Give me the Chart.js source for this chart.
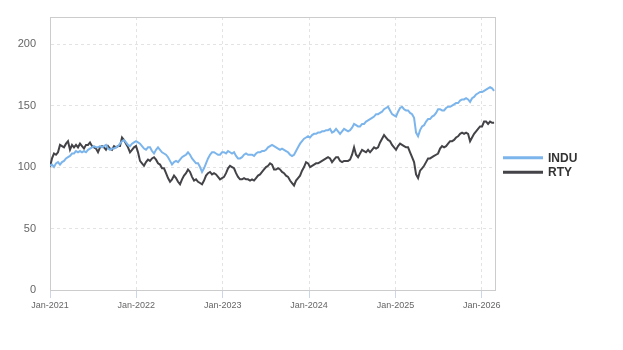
<!DOCTYPE html>
<html><head><meta charset="utf-8">
<script src="https://cdn.jsdelivr.net/npm/chart.js@4/dist/chart.umd.min.js"></script>
<style>html,body{margin:0;padding:0;background:#fff}canvas{display:block}</style>
</head><body>
<canvas id="c" width="623" height="350"></canvas>
<script>
// ---- data ----
const seriesNames = ['INDU', 'RTY'];
const seriesColors = ['#7cb5ec', '#434348'];
const startDate = '2021-01-01';
const endDate = '2026-02-26';
const stepDays = 8.46; // spacing between samples
const xTickLabels = ['Jan-2021', 'Jan-2022', 'Jan-2023', 'Jan-2024', 'Jan-2025', 'Jan-2026'];
const yTickValues = [0, 50, 100, 150, 200];

const indu = [
 101,102,100,103,104,102,104,105,107,108,
 109,111,111,113,112,113,112,113,112,114,
 115,116,117,116,116,117,116,117,118,115,
 114,115,115,116,117,119,121,122,120,118,
 117,119,120,121,120,119,117,115,114,116,
 116,113,111,114,116,114,112,111,110,108,
 105,102,104,105,104,106,108,109,110,112,
 110,107,105,103,103,100,96,99,103,107,
 110,112,112,111,110,110,112,112,111,113,
 112,111,112,109,107,107,108,110,111,110,
 110,110,109,111,112,112,113,113,114,116,
 117,118,117,116,115,114,115,114,113,112,
 110,109,110,113,116,119,121,123,124,125,
 124,126,127,127,128,128,129,129,130,130,
 131,128,129,131,129,127,129,131,130,129,
 130,132,135,134,133,133,135,135,137,138,
 139,140,141,143,143,144,145,147,148,149,
 146,143,142,141,145,148,149,147,146,146,
 144,143,140,128,125,130,133,134,137,139,
 139,141,142,144,147,147,146,146,148,149,
 149,150,151,152,152,154,155,155,156,155,
 153,156,157,159,160,161,161,162,163,164,
 165,164,162
];
const rty = [
 100,107,111,110,112,118,117,116,119,121,
 114,118,116,118,116,119,117,115,118,118,
 120,117,116,115,112,116,117,116,114,117,
 115,114,117,116,117,117,124,122,119,116,
 112,114,116,117,112,105,103,101,104,106,
 105,107,108,106,103,102,99,99,95,91,
 88,90,93,91,88,86,90,93,95,98,
 96,92,89,90,88,87,86,89,93,95,
 96,94,95,94,92,90,91,92,95,99,
 101,100,99,95,92,90,90,91,90,90,
 89,90,89,91,93,94,96,98,100,101,
 103,102,98,98,99,98,96,95,93,92,
 89,87,85,89,91,93,97,100,104,103,
 100,101,102,103,103,104,105,106,107,108,
 107,104,106,108,108,105,104,105,105,105,
 106,110,116,110,108,111,114,113,112,114,
 112,114,116,115,116,120,123,126,124,122,
 121,118,116,114,117,119,118,117,116,116,
 112,108,104,94,91,97,99,101,104,107,
 107,108,109,110,111,115,117,116,117,119,
 121,121,122,124,125,127,128,127,128,127,
 121,124,127,129,131,133,133,137,137,135,
 137,136,136
];

// ---- build ----
const DAY = 86400000, YEAR = 365.25;
const t0 = Date.parse(startDate);
const yearsFromStart = ms => (ms - t0) / DAY / YEAR;
const xMax = yearsFromStart(Date.parse(endDate));
const toPoints = arr => arr.map((v, i) => ({ x: i * stepDays / YEAR, y: v }));

const FONT = "'Liberation Sans', Arial, sans-serif";

const frame = {
  id: 'frame',
  beforeDatasetsDraw(chart) {
    const a = chart.chartArea, c = chart.ctx;
    c.save();
    c.strokeStyle = '#cccccc';
    c.lineWidth = 1;
    c.setLineDash([]);
    c.strokeRect(Math.round(a.left) + 0.5, Math.round(a.top) + 0.5, Math.round(a.right - a.left), Math.round(a.bottom - a.top));
    c.restore();
  }
};

const sideLegend = {
  id: 'sideLegend',
  afterDraw(chart) {
    const a = chart.chartArea, c = chart.ctx;
    const x0 = a.right + 8, midY = 165;
    c.save();
    c.font = 'bold 12px ' + FONT;
    c.textBaseline = 'middle';
    chart.data.datasets.forEach((ds, i) => {
      const y = midY + (i - 0.5) * 14.5;
      c.strokeStyle = ds.borderColor;
      c.lineWidth = 3;
      c.beginPath();
      c.moveTo(x0, y);
      c.lineTo(x0 + 40, y);
      c.stroke();
      c.fillStyle = '#333333';
      c.fillText(ds.label, x0 + 45, y + 0.5);
    });
    c.restore();
  }
};

new Chart(document.getElementById('c'), {
  type: 'line',
  data: {
    datasets: [
      { label: seriesNames[0], data: toPoints(indu), borderColor: seriesColors[0], backgroundColor: seriesColors[0], borderWidth: 2, pointRadius: 0, tension: 0, fill: false },
      { label: seriesNames[1], data: toPoints(rty), borderColor: seriesColors[1], backgroundColor: seriesColors[1], borderWidth: 2, pointRadius: 0, tension: 0, fill: false }
    ]
  },
  options: {
    responsive: false,
    animation: false,
    layout: { padding: { top: 17, right: 128, left: 0, bottom: 0 } },
    plugins: { legend: { display: false }, tooltip: { enabled: false } },
    scales: {
      x: {
        type: 'linear',
        min: 0,
        max: xMax,
        afterBuildTicks: s => { s.ticks = xTickLabels.map((_, i) => ({ value: i })); },
        afterFit: s => { s.height = 60; },
        ticks: {
          autoSkip: false,
          maxRotation: 0,
          padding: 2,
          color: '#666666',
          font: { family: FONT, size: 9 },
          callback: v => xTickLabels[v]
        },
        grid: {
          color: '#e3e3e3',
          tickColor: '#ccd6eb',
          tickBorderDash: [],
          tickLength: 8,
          drawTicks: true
        },
        border: { display: true, color: '#ccd6eb', width: 1, dash: [3, 3] }
      },
      y: {
        min: 0,
        max: 222,
        afterBuildTicks: s => { s.ticks = yTickValues.map(v => ({ value: v })); },
        afterFit: s => { s.width = 50; },
        ticks: {
          padding: 0,
          color: '#666666',
          font: { family: FONT, size: 11 }
        },
        grid: {
          color: '#e3e3e3',
          drawTicks: true,
          tickLength: 14,
          tickColor: 'rgba(0,0,0,0)'
        },
        border: { display: true, color: '#cccccc', width: 1, dash: [3, 3] }
      }
    }
  },
  plugins: [frame, sideLegend]
});
</script>
</body></html>
